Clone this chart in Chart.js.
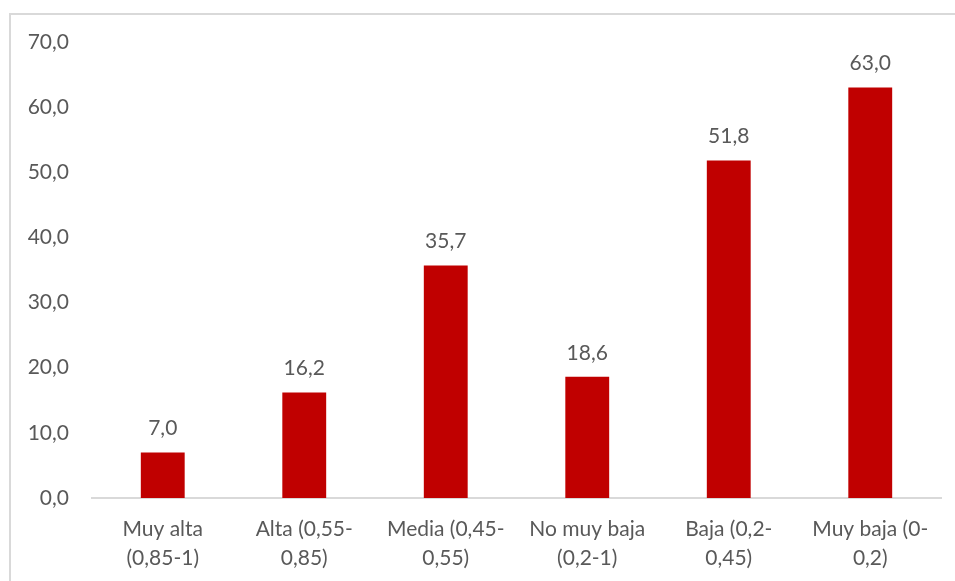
<!DOCTYPE html>
<html>
<head>
<meta charset="utf-8">
<script src="https://cdn.jsdelivr.net/npm/chart.js@4"></script>
<style>
  html,body{margin:0;padding:0;background:#fff;}
  #wrap{position:relative;width:955px;height:581px;overflow:hidden;}
  #frame{position:absolute;left:9px;top:13px;width:1000px;height:700px;border-left:2px solid #d9d9d9;border-top:2px solid #d9d9d9;box-sizing:border-box;}
  canvas{position:absolute;left:0;top:0;}
</style>
</head>
<body>
<div id="wrap">
  <div id="frame"></div>
  <canvas id="c" width="955" height="581"></canvas>
</div>
<script>
'use strict';
// ── DATA ──────────────────────────────────────────────────────
const categories = [
  ['Muy alta', '(0,85-1)'],
  ['Alta (0,55-', '0,85)'],
  ['Media (0,45-', '0,55)'],
  ['No muy baja', '(0,2-1)'],
  ['Baja (0,2-', '0,45)'],
  ['Muy baja (0-', '0,2)']
];
const values = [7.0, 16.2, 35.7, 18.6, 51.8, 63.0];
const yMin = 0, yMax = 70, yStep = 10;

// ── STYLE ─────────────────────────────────────────────────────
const TXT = '#595959';
const FONT = 'Lato';
const fmt = v => v.toFixed(1).replace('.', ',');

const barLabels = {
  id: 'barLabels',
  afterDatasetsDraw(chart) {
    const ctx = chart.ctx;
    const meta = chart.getDatasetMeta(0);
    ctx.save();
    ctx.fillStyle = TXT;
    ctx.font = '21px ' + FONT;
    ctx.textAlign = 'center';
    ctx.textBaseline = 'middle';
    meta.data.forEach((el, i) => {
      ctx.fillText(fmt(values[i]), el.x, el.y - 24);
    });
    ctx.restore();
  }
};

new Chart(document.getElementById('c').getContext('2d'), {
  type: 'bar',
  data: {
    labels: categories,
    datasets: [{
      data: values,
      backgroundColor: '#C00000',
      borderWidth: 0,
      categoryPercentage: 1,
      barPercentage: 0.31
    }]
  },
  options: {
    responsive: false,
    animation: false,
    layout: { padding: { top: 42, right: 14, left: 0, bottom: 0 } },
    plugins: { legend: { display: false }, tooltip: { enabled: false } },
    scales: {
      x: {
        grid: { display: false, drawTicks: false },
        border: { display: true, color: '#d9d9d9', width: 2 },
        ticks: { color: TXT, font: { family: FONT, size: 21, lineHeight: 1.38 }, padding: 17, maxRotation: 0, autoSkip: false },
        afterFit: s => { s.height = 83; }
      },
      y: {
        min: yMin, max: yMax,
        grid: { display: false, drawTicks: false },
        border: { display: false },
        ticks: { stepSize: yStep, color: TXT, font: { family: FONT, size: 21 }, padding: 23, callback: v => fmt(v) },
        afterFit: s => { s.width = 92; }
      }
    }
  },
  plugins: [barLabels]
});
</script>
</body>
</html>
